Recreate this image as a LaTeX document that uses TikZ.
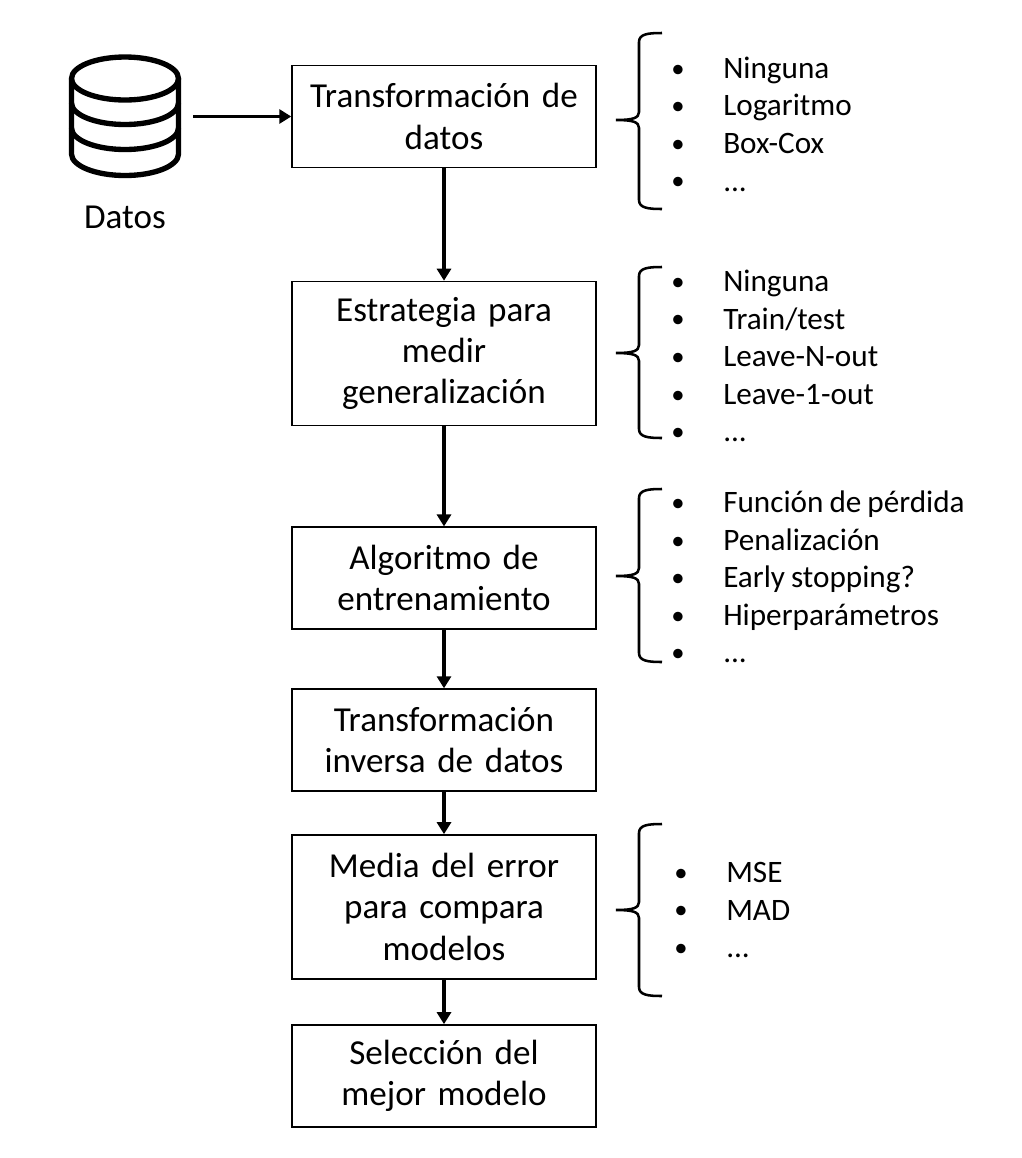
\documentclass[tikz,border=0pt]{standalone}
\usepackage{fontspec}
\setmainfont[WordSpace=0.85]{Carlito}
\usetikzlibrary{positioning, arrows.meta}

\tikzset{
  stagebox/.style={draw=black, line width=1.1pt, text width=226pt, align=center, inner sep=0pt,
        minimum width=228pt, minimum height=76.4pt, font=\fontsize{26.3}{31}\selectfont},
  optlist/.style={anchor=west, align=left, inner sep=0pt, font=\fontsize{23.4}{28.2}\selectfont},
  flow/.style={-{Triangle[length=9pt, width=10.5pt]}, line width=2.9pt},
  bracket/.style={line width=1.9pt},
  dbline/.style={line width=4pt}
}
% one line of an option list
\newcommand{\opt}[1]{\makebox[39pt][l]{\raisebox{0.8pt}{\fontsize{20}{20}\selectfont •}}#1}
% brace: top y, tip y, bottom y
\newcommand{\listbrace}[3]{
  \draw[bracket] (662,#1) .. controls (648,#1) and (639,#1+1) .. (639,#1+9)
    -- (639,#2-8) .. controls (639,#2-2) and (633,#2) .. (616,#2)
    .. controls (633,#2) and (639,#2+2) .. (639,#2+8)
    -- (639,#3-9) .. controls (639,#3-1) and (648,#3) .. (662,#3);
}

\begin{document}
\begin{tikzpicture}[x=0.75pt, y=-0.75pt]
  \useasboundingbox (0,0) rectangle (1022,1158);

  % process boxes
  \node[stagebox] (trans) at (444,116.5) {Transformación de\\datos};
  \node[stagebox, minimum height=108pt, below=84.4pt of trans] (estrategia) {Estrategia para\\medir\\generalización};
  \node[stagebox, below=75.2pt of estrategia] (algoritmo) {Algoritmo de\\entrenamiento};
  \node[stagebox, below=43.9pt of algoritmo] (inversa) {Transformación\\inversa de datos};
  \node[stagebox, minimum height=108pt, below=31.9pt of inversa] (media) {Media del error\\para compara\\modelos};
  \node[stagebox, below=33.4pt of media] (seleccion) {Selección del\\mejor modelo};

  \draw[flow] (trans) -- (estrategia);
  \draw[flow] (estrategia) -- (algoritmo);
  \draw[flow] (algoritmo) -- (inversa);
  \draw[flow] (inversa) -- (media);
  \draw[flow] (media) -- (seleccion);

  % database icon
  \draw[dbline] (125,78.5) ellipse [x radius=53.5, y radius=21.5];
  \draw[dbline] (71.5,78.5) -- (71.5,154) arc[start angle=180, end angle=0, x radius=53.5, y radius=21.5] -- (178.5,78.5);
  \draw[dbline] (71.5,103) arc[start angle=180, end angle=0, x radius=53.5, y radius=21.5];
  \draw[dbline] (71.5,128) arc[start angle=180, end angle=0, x radius=53.5, y radius=21.5];
  \node[inner sep=0pt, font=\fontsize{26.3}{31}\selectfont] (datos) at (125,217) {Datos};
  \coordinate (dbout) at (193,116.5);
  \draw[flow] (dbout) -- (trans.west);

  % options next to the boxes
  \listbrace{33}{120}{209}
  \node[optlist] (opttrans) at (671,124) {\opt{Ninguna}\\\opt{Logaritmo}\\\opt{Box-Cox}\\\opt{...}};
  \listbrace{267}{353}{438}
  \node[optlist] (optestrategia) at (671,356) {\opt{Ninguna}\\\opt{Train/test}\\\opt{Leave-N-out}\\\opt{Leave-1-out}\\\opt{...}};
  \listbrace{489}{576}{662}
  \node[optlist] (optalgoritmo) at (671,577) {\opt{Función de pérdida}\\\opt{Penalización}\\\opt{Early stopping?}\\\opt{Hiperparámetros}\\\opt{...}};
  \listbrace{824}{910}{996}
  \node[optlist] (optmedia) at (674,910) {\opt{MSE}\\\opt{MAD}\\\opt{...}};
\end{tikzpicture}
\end{document}
